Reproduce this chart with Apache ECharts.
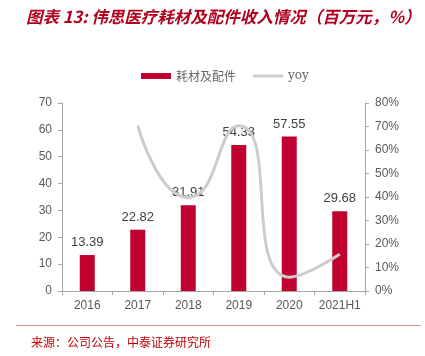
<!DOCTYPE html>
<html><head><meta charset="utf-8">
<script src="https://cdn.jsdelivr.net/npm/echarts@6/dist/echarts.min.js"></script>
<style>html,body{margin:0;padding:0;background:#fff}#c{width:425px;height:356px}</style>
</head><body><div id="c"></div>
<script>
var categories = ['2016','2017','2018','2019','2020','2021H1'];
var revenue = [13.39, 22.82, 31.91, 54.33, 57.55, 29.68];
var yoy = [null, 70.4, 39.8, 70.3, 5.9, 15.6];
var leftTicks = [0,10,20,30,40,50,60,70];
var rightTicks = [0,10,20,30,40,50,60,70,80];

var chart = echarts.init(document.getElementById('c'), null, {renderer:'canvas'});
var axisGray = '#a6a6a6';
var labelGray = '#595959';
chart.setOption({
  animation:false,
  title:[{
    text:'图表 13: 伟思医疗耗材及配件收入情况（百万元，%）',
    left:21, top:3,
    textStyle:{color:'#b0001e', fontSize:16.5, fontWeight:'bold', fontStyle:'italic', fontFamily:'Noto Sans CJK SC'}
  },{
    text:'来源：公司公告，中泰证券研究所',
    left:26, top:331,
    textStyle:{color:'#c00000', fontSize:12, fontWeight:'normal', fontFamily:'Noto Sans CJK SC'}
  }],
  graphic:[{type:'line', shape:{x1:16,y1:325.5,x2:421,y2:325.5}, style:{stroke:'#e08a8a', lineWidth:1}}],
  legend:{
    top:65, left:136,
    itemWidth:30, itemHeight:6, itemGap:17,
    textStyle:{color:'#666666', fontSize:12, fontFamily:'Noto Sans CJK SC'},
    data:[{name:'耗材及配件', icon:'rect'},
          {name:'yoy', icon:'path://M0,0L30,0L30,3L0,3Z', textStyle:{fontFamily:'DejaVu Serif', fontSize:12}}]
  },
  grid:{left:62, right:60, top:103, bottom:65},
  xAxis:{
    type:'category', data:categories,
    axisLine:{lineStyle:{color:axisGray}},
    axisTick:{show:true, lineStyle:{color:axisGray}, length:4},
    axisLabel:{color:labelGray, fontSize:12, margin:9, interval:0, fontFamily:'Liberation Sans'}
  },
  yAxis:[{
    type:'value', min:leftTicks[0], max:leftTicks[leftTicks.length-1], interval:10,
    axisLine:{show:true, lineStyle:{color:axisGray}},
    axisTick:{show:true, lineStyle:{color:axisGray}, length:4},
    splitLine:{show:false},
    axisLabel:{color:labelGray, fontSize:12, margin:10, fontFamily:'Liberation Sans'}
  },{
    type:'value', min:rightTicks[0], max:rightTicks[rightTicks.length-1], interval:10,
    axisLine:{show:true, lineStyle:{color:axisGray}},
    axisTick:{show:true, lineStyle:{color:axisGray}, length:4},
    splitLine:{show:false},
    axisLabel:{color:labelGray, fontSize:12, margin:10, formatter:'{value}%', fontFamily:'Liberation Sans'}
  }],
  series:[{
    name:'耗材及配件', type:'bar', data:revenue, barWidth:15,
    itemStyle:{color:'#c0002f'},
    label:{show:true, position:'top', color:'#404040', fontSize:13, distance:6, fontFamily:'Liberation Sans'}
  },{
    name:'yoy', type:'line', yAxisIndex:1, data:yoy, smooth:0.6,
    showSymbol:false, symbol:'none', z:5,
    lineStyle:{color:'#cccccc', width:3},
    itemStyle:{color:'#cccccc'}
  }]
});
</script></body></html>
